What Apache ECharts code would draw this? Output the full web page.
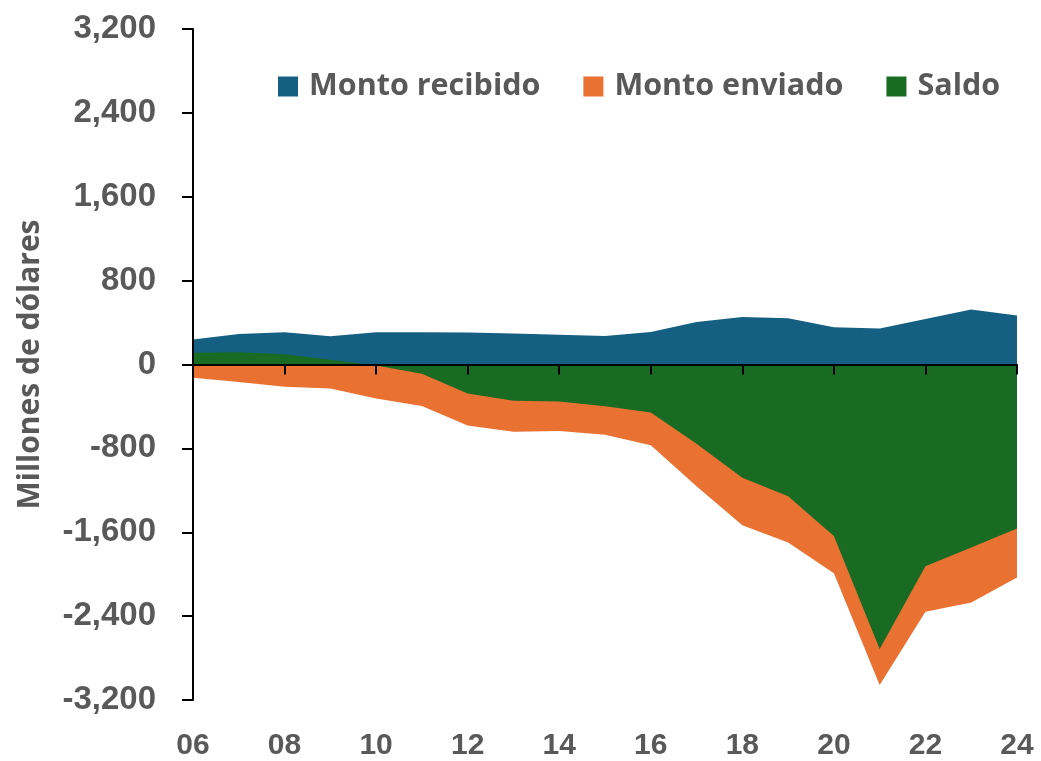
<!DOCTYPE html>
<html>
<head>
<meta charset="utf-8">
<script src="https://cdn.jsdelivr.net/npm/echarts@6/dist/echarts.min.js"></script>
<style>
html,body{margin:0;padding:0;background:#fff;}
#chart{width:1041px;height:761px;}
</style>
</head>
<body>
<div id="chart"></div>
<script>
var years = ['06','07','08','09','10','11','12','13','14','15','16','17','18','19','20','21','22','23','24'];
var montoRecibido = [238,292,308,270,308,308,305,295,283,272,311,406,454,441,355,343,435,524,467];
var montoEnviado = [-127,-168,-213,-229,-324,-397,-581,-641,-635,-670,-770,-1162,-1533,-1698,-1990,-3057,-2359,-2270,-2032];
var saldo = [111,118,98,45,-10,-89,-276,-346,-352,-398,-459,-756,-1079,-1257,-1635,-2714,-1924,-1746,-1565];
var yTicks = {min:-3200, max:3200, interval:800};

var chart = echarts.init(document.getElementById('chart'));
var gray = '#595959';
function areaSeries(name, data, color){
  return {name:name, type:'line', data:data, xAxisIndex:0, symbol:'none', showSymbol:false,
    lineStyle:{width:0, color:color}, itemStyle:{color:color},
    areaStyle:{color:color, opacity:1}, emphasis:{disabled:true}, z:2};
}
chart.setOption({
  animation:false,
  grid:{left:193, right:24, top:29, bottom:60, containLabel:false},
  legend:{
    left:273, top:66, icon:'rect', itemWidth:20, itemHeight:20, itemGap:43,
    textStyle:{color:gray, fontSize:30.5, fontWeight:'bold', fontFamily:'"Open Sans", sans-serif', padding:[0,0,0,6]},
    data:['Monto recibido','Monto enviado','Saldo']
  },
  xAxis:[
    {type:'category', data:years, boundaryGap:false, position:'bottom',
     axisLine:{show:false, onZero:false}, axisTick:{show:false},
     axisLabel:{interval:1, color:gray, fontSize:30, fontWeight:'bold', margin:31,
       fontFamily:'"Liberation Sans", Arial, sans-serif'},
     splitLine:{show:false}},
    {type:'category', data:years, boundaryGap:false, position:'bottom', z:10,
     axisLine:{show:true, onZero:true, lineStyle:{color:'#000', width:2}},
     axisTick:{show:true, interval:1, inside:false, length:10, lineStyle:{color:'#000', width:2}},
     axisLabel:{show:false}, splitLine:{show:false}}
  ],
  yAxis:{type:'value', min:yTicks.min, max:yTicks.max, interval:yTicks.interval, z:10,
    name:'Millones de dólares', nameLocation:'middle', nameRotate:90, nameGap:148,
    nameTextStyle:{color:gray, fontSize:30, fontWeight:'bold', fontFamily:'"Open Sans", sans-serif'},
    axisLine:{show:true, lineStyle:{color:'#000', width:2}},
    axisTick:{show:true, inside:false, length:11, lineStyle:{color:'#000', width:2}},
    axisLabel:{color:gray, fontSize:33, fontWeight:'bold', margin:37, fontFamily:'"Liberation Sans", Arial, sans-serif'},
    splitLine:{show:false}},
  series:[
    areaSeries('Monto recibido', montoRecibido, '#156082'),
    areaSeries('Monto enviado', montoEnviado, '#E97132'),
    areaSeries('Saldo', saldo, '#196B24')
  ]
});
</script>
</body>
</html>
